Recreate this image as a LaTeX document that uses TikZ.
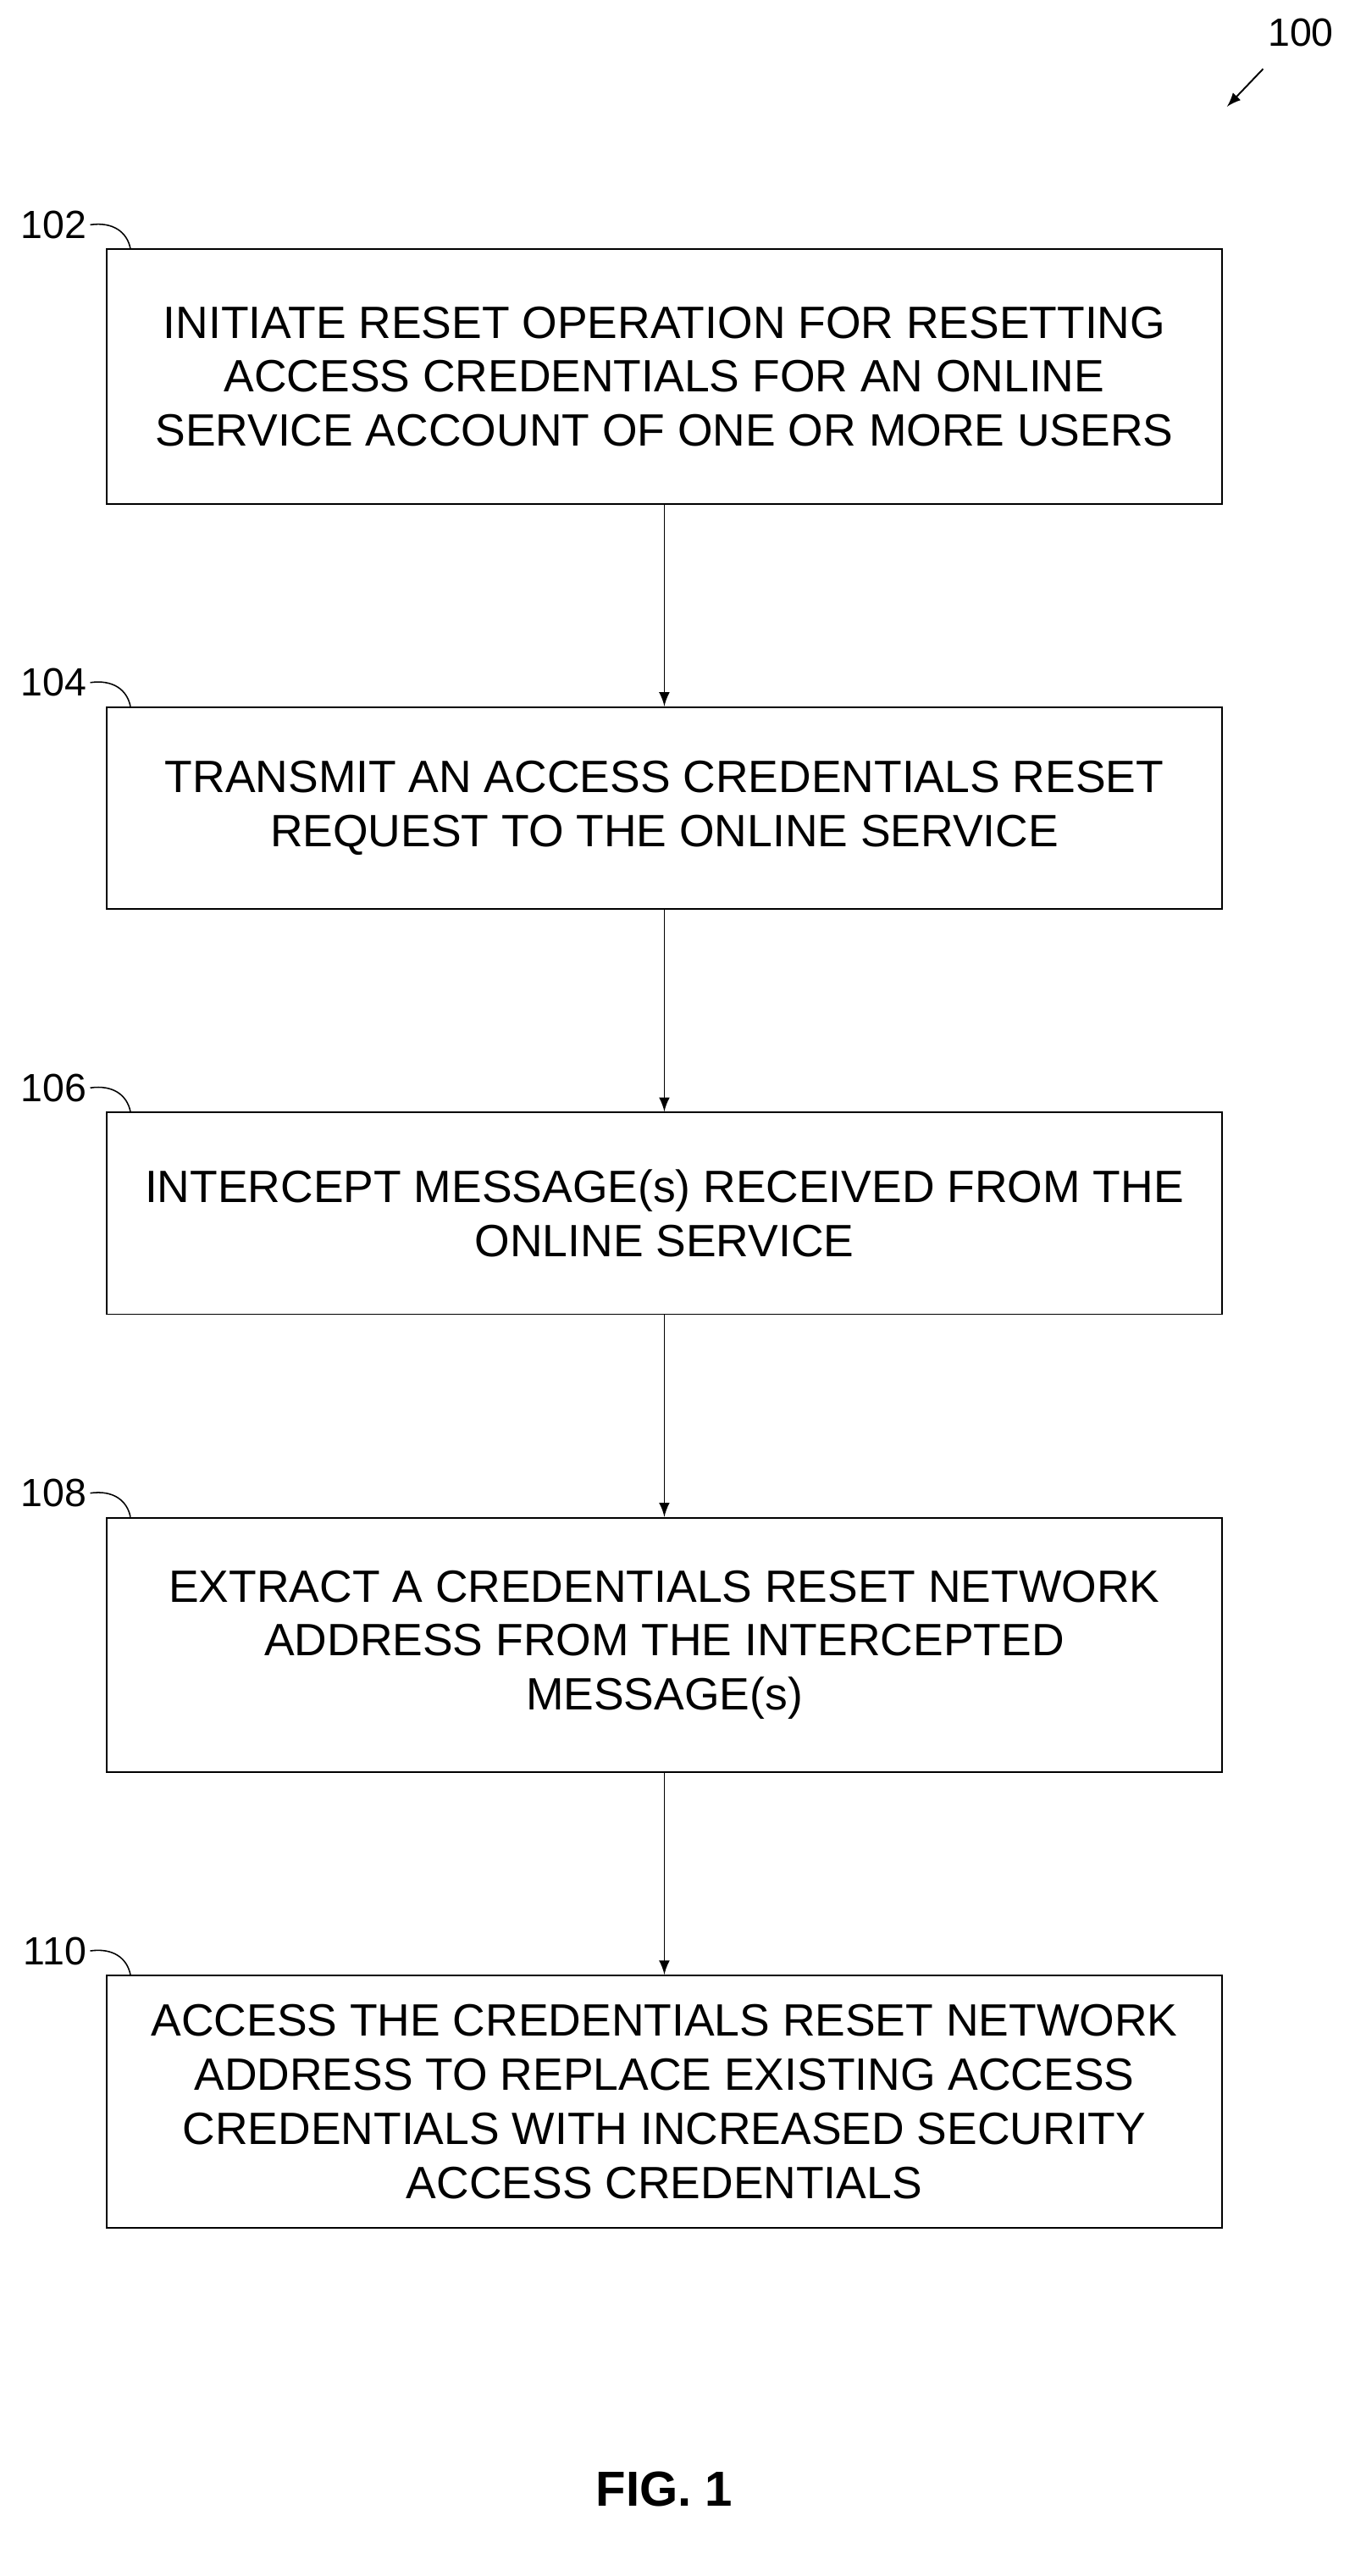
\documentclass[tikz,border=0pt]{standalone}
\usepackage{fontspec}
\setmainfont{Liberation Sans}
\usetikzlibrary{positioning, arrows}

\begin{document}
\begin{tikzpicture}[x=0.5pt, y=-0.5pt,
    flowbox/.style={draw, line width=0.5pt, minimum width=340pt, align=center,
                 font=\fontsize{13.8}{16.5}\selectfont, inner sep=0pt},
    tag/.style={font=\fontsize{12}{14}\selectfont, anchor=east, inner sep=1pt},
    flow/.style={draw, -latex, line width=0.5pt}
]
    \useasboundingbox (0,0) rectangle (826,1570);
    % Flow steps
    \node[flowbox, minimum height=77.5pt] (s102) at (405,229.5) {INITIATE RESET OPERATION FOR RESETTING\\ACCESS CREDENTIALS FOR AN ONLINE\\SERVICE ACCOUNT OF ONE OR MORE USERS};
    \node[flowbox, minimum height=61.5pt] (s104) at (405,492.5) {TRANSMIT AN ACCESS CREDENTIALS RESET\\REQUEST TO THE ONLINE SERVICE};
    \node[flowbox, minimum height=61.5pt] (s106) at (405,739.5) {INTERCEPT MESSAGE(s) RECEIVED FROM THE\\ONLINE SERVICE};
    \node[flowbox, minimum height=77.5pt] (s108) at (405,1002.5) {EXTRACT A CREDENTIALS RESET NETWORK\\ADDRESS FROM THE INTERCEPTED\\MESSAGE(s)};
    \node[flowbox, minimum height=77pt] (s110) at (405,1281) {ACCESS THE CREDENTIALS RESET NETWORK\\ADDRESS TO REPLACE EXISTING ACCESS\\CREDENTIALS WITH INCREASED SECURITY\\ACCESS CREDENTIALS};
    % Connectors
    \draw[flow] (s102) -- (s104);
    \draw[flow] (s104) -- (s106);
    \draw[flow] (s106) -- (s108);
    \draw[flow] (s108) -- (s110);
    % Reference labels
    \foreach \n/\y in {102/137, 104/416, 106/663, 108/910, 110/1189} {
        \node[tag] (t\n) at (55,\y) {\n};
        \draw[line width=0.4pt] (t\n.east) .. controls +(14,-2) and +(-2,-10) .. ([xshift=7.5pt]s\n.north west);
    }
    \node[font=\fontsize{12}{14}\selectfont] (t100) at (793,20) {100};
    \coordinate (a100) at (748,65);
    \draw[-latex, line width=0.5pt] (770,42) -- (a100);
    \node[font=\bfseries\fontsize{15}{18}\selectfont] (fig) at (405,1517) {FIG. 1};
\end{tikzpicture}
\end{document}
